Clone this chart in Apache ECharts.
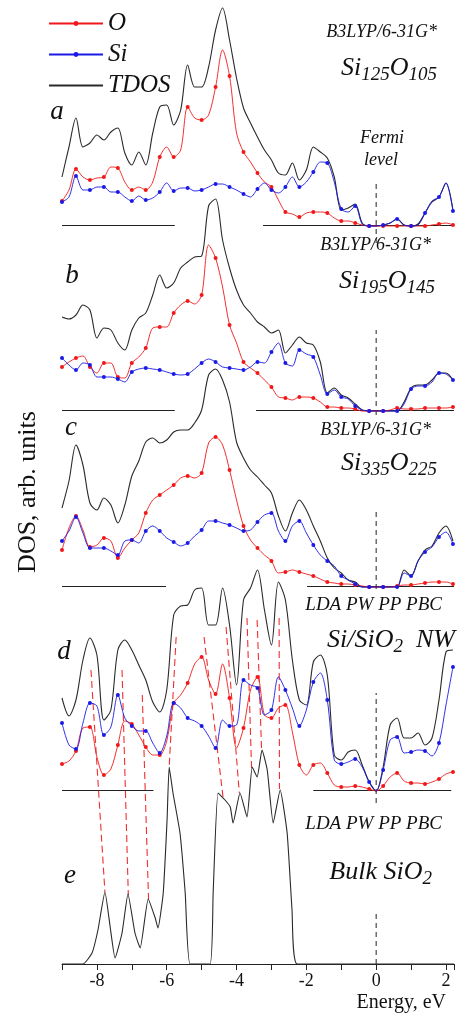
<!DOCTYPE html>
<html>
<head>
<meta charset="utf-8">
<script src="https://cdn.jsdelivr.net/npm/echarts@6/dist/echarts.min.js"></script>
<style>
  html, body { margin: 0; padding: 0; background: #fff; }
  #chart { width: 464px; height: 1015px; }
</style>
</head>
<body>
<div id="chart"></div>
<script>
'use strict';

// energy grid, eV (panels a-d)
var energy = [-9.0, -8.8, -8.6, -8.4, -8.2, -8.0, -7.8, -7.6, -7.4, -7.2,
  -7.0, -6.8, -6.6, -6.4, -6.2, -6.0, -5.8, -5.6, -5.4, -5.2,
  -5.0, -4.8, -4.6, -4.4, -4.2, -4.0, -3.8, -3.6, -3.4, -3.2,
  -3.0, -2.8, -2.6, -2.4, -2.2, -2.0, -1.8, -1.6, -1.4, -1.2,
  -1.0, -0.8, -0.6, -0.4, -0.2, 0.0, 0.2, 0.4, 0.6, 0.8,
  1.0, 1.2, 1.4, 1.6, 1.8, 2.0, 2.2];

// a: Si125O105
var aTDOS = [49, 79, 108, 79, 83, 91, 86, 94, 98, 73, 61, 74, 61, 93, 119, 121, 101, 116, 161, 139,
  139, 159, 196, 218, 186, 148, 118, 103, 89, 76, 66, 53, 51, 63, 46, 56, 79, 74, 68, 49,
  16, 18, 22, 3, 0, 0, 1, 3, 7, 1, 0, 2, 13, 24, 29, 43, 16];
var aO = [25, 36, 57, 49, 46, 48, 49, 59, 58, 44, 36, 39, 36, 44, 69, 79, 69, 76, 119, 108,
  106, 111, 139, 176, 150, 93, 74, 64, 53, 44, 39, 26, 14, 12, 9, 13, 14, 14, 13, 8,
  5, 5, 3, 1, 0, 0, 0, 0, 0, 0, 0, 0, 0, 1, 2, 3, 1];
var aSi = [24, 29, 50, 36, 36, 39, 39, 34, 34, 29, 25, 30, 26, 28, 34, 43, 35, 38, 38, 35,
  36, 39, 42, 42, 39, 36, 32, 29, 37, 43, 36, 33, 39, 49, 39, 44, 54, 64, 63, 44,
  17, 14, 20, 2, 0, 0, 1, 3, 7, 1, 0, 1, 13, 25, 29, 43, 15];

// b: Si195O145
var bTDOS = [94, 92, 96, 106, 101, 73, 83, 81, 68, 61, 81, 93, 98, 116, 136, 123, 128, 143, 149, 154,
  155, 205, 212, 171, 143, 121, 106, 98, 89, 84, 78, 81, 58, 66, 74, 68, 66, 49, 18, 23,
  16, 13, 7, 1, 0, 0, 0, 0, 0, 9, 23, 26, 26, 31, 38, 38, 31];
var bO = [44, 49, 53, 55, 44, 38, 48, 48, 34, 33, 48, 54, 63, 83, 84, 84, 98, 106, 110, 107,
  116, 166, 153, 124, 86, 68, 49, 43, 38, 31, 24, 14, 13, 11, 14, 14, 13, 9, 4, 4,
  3, 3, 2, 0, 0, 0, 0, 1, 3, 2, 2, 2, 3, 3, 3, 3, 4];
var bSi = [53, 46, 41, 48, 46, 34, 34, 34, 32, 29, 39, 42, 43, 42, 41, 39, 37, 36, 37, 42,
  48, 52, 49, 44, 43, 42, 41, 44, 49, 48, 59, 68, 48, 45, 61, 57, 54, 36, 17, 21,
  14, 12, 5, 1, 0, 0, 0, 0, 0, 7, 22, 25, 25, 29, 38, 37, 31];

// c: Si335O225
var cTDOS = [79, 106, 142, 122, 84, 77, 89, 82, 64, 82, 111, 126, 145, 149, 144, 147, 155, 157, 157, 164,
  177, 212, 218, 207, 185, 145, 129, 117, 110, 102, 94, 71, 56, 74, 87, 77, 61, 46, 29, 19,
  14, 7, 5, 0, 0, 0, 0, 0, 0, 17, 11, 26, 37, 41, 54, 61, 46];
var cO = [37, 59, 71, 57, 40, 42, 49, 46, 29, 39, 47, 54, 74, 87, 92, 97, 102, 109, 111, 109,
  114, 144, 150, 142, 117, 87, 61, 47, 39, 32, 26, 14, 15, 17, 15, 13, 11, 8, 5, 4,
  3, 3, 2, 1, 0, 0, 0, 0, 1, 2, 2, 3, 4, 5, 5, 5, 3];
var cSi = [46, 56, 70, 54, 39, 39, 39, 36, 32, 46, 47, 44, 56, 61, 56, 49, 45, 41, 44, 51,
  57, 66, 66, 64, 62, 59, 56, 57, 65, 72, 74, 56, 46, 61, 66, 54, 42, 32, 26, 21,
  11, 7, 3, 0, 0, 0, 0, 0, 0, 14, 11, 26, 35, 40, 50, 55, 43];

// d: Si/SiO2 nanowire
var dTDOS = [93, 75, 91, 131, 153, 136, 71, 81, 141, 151, 141, 126, 111, 89, 79, 101, 176, 185, 186, 201,
  203, 166, 166, 203, 166, 106, 191, 203, 221, 181, 146, 209, 191, 131, 91, 86, 129, 136, 116, 36,
  31, 39, 41, 26, 9, 0, 24, 66, 73, 53, 53, 58, 46, 53, 91, 139, 141];
var dO = [27, 30, 40, 63, 64, 34, 16, 22, 46, 70, 67, 56, 44, 36, 36, 50, 88, 96, 108, 127,
  134, 111, 97, 127, 93, 43, 63, 101, 114, 76, 73, 83, 86, 59, 26, 16, 26, 28, 18, 6,
  4, 4, 5, 4, 2, 0, 5, 14, 18, 10, 8, 8, 7, 9, 12, 17, 19];
var dSi = [68, 46, 42, 68, 88, 85, 56, 64, 96, 73, 65, 60, 60, 48, 38, 55, 88, 83, 73, 70,
  65, 55, 43, 71, 65, 66, 111, 106, 103, 76, 81, 114, 101, 83, 65, 81, 109, 118, 91, 31,
  27, 29, 32, 24, 9, 0, 21, 51, 54, 38, 39, 41, 40, 35, 48, 86, 124];

// e: bulk SiO2
var eEnergy = [-9.0, -8.4, -8.14, -7.97, -7.77, -7.62, -7.48, -7.28, -7.11, -6.91,
  -6.76, -6.53, -6.33, -6.25, -6.10, -5.99, -5.93, -5.82, -5.62, -5.47,
  -5.33, -4.76, -4.67, -4.53, -4.33, -4.18, -4.10, -3.90, -3.70, -3.55,
  -3.41, -3.27, -3.12, -2.95, -2.75, -2.55, -2.41, -2.26, 2.23];
var eTDOS = [0, 0, 11, 34, 72, 37, 6, 31, 70, 31, 16, 65, 46, 36, 71, 144, 197, 171, 131, 71,
  0, 0, 71, 171, 164, 157, 141, 171, 147, 197, 187, 214, 194, 141, 174, 131, 54, 0, 0];

// dashed guides d -> e
var linkTopE = [-8.17, -7.28, -6.70, -5.73, -4.93, -4.30, -3.70, -3.41, -2.78];
var linkTopDOS = [121, 121, 96, 154, 154, 164, 173, 171, 173];   // above d baseline
var linkBotE = [-7.77, -7.10, -6.52, -5.93, -4.38, -3.92, -3.57, -3.28, -2.77];
var linkBotDOS = [72, 69, 64, 197, 165, 171, 196, 212, 175];      // above e baseline

// zero-line pieces per panel (eV)
var zeroA = [[-9, -5.77], [-3.24, 2.23]];
var zeroB = [[-9, -5.77], [-3.44, 2.23]];
var zeroC = [[-9, -6.02], [-1.98, 2.23]];
var zeroD = [[-9, -6.38], [-1.80, 2.15]];

// Fermi level dash, extent relative to each baseline
var fermiLow = [-17, -4, -2, -12, 0];
var fermiHigh = [44, 81, 78, 98, 51];

var xTicks = [-8, -6, -4, -2, 0, 2];

// layout: vertical offset of each panel (1 unit = 1 px)
var offs = [738, 553, 377, 173, 0];
var RED = '#f01818', BLUE = '#1a1ae6', BLACK = '#2a2a2a';
var SERIF = '"Liberation Serif", "DejaVu Serif", serif';

function shifted(xs, ys, off) {
  return xs.map(function (x, i) { return [x, ys[i] + off]; });
}
function every2(v, p) { return p.dataIndex % 2 === 0 ? 4 : 0; }

var series = [];
function curve(name, ys, off, color, dotted) {
  series.push({
    name: name, type: 'line', data: shifted(energy, ys, off),
    smooth: 0.3, clip: false,
    symbol: dotted ? 'circle' : 'none', showAllSymbol: true,
    symbolSize: dotted ? every2 : 0,
    itemStyle: { color: color },
    lineStyle: { color: color, width: dotted ? 0.9 : 1.1 },
    emphasis: { disabled: true }, z: dotted ? 3 : 2
  });
}
function plain(data, color, type, width) {
  series.push({
    type: 'line', data: data, symbol: 'none', clip: false, silent: true,
    lineStyle: { color: color, width: width || 1, type: type || 'solid' },
    emphasis: { disabled: true }, z: 1
  });
}

var panels = [
  [aTDOS, aO, aSi, zeroA], [bTDOS, bO, bSi, zeroB],
  [cTDOS, cO, cSi, zeroC], [dTDOS, dO, dSi, zeroD]
];
panels.forEach(function (p, k) {
  var off = offs[k];
  p[3].forEach(function (s) { plain([[s[0], off + 0.5], [s[1], off + 0.5]], '#222', 'solid', 1); });
  curve('TDOS', p[0], off, BLACK, false);
  curve('O', p[1], off, RED, true);
  curve('Si', p[2], off, BLUE, true);
});

// bulk SiO2
series.push({
  name: 'TDOS', type: 'line', data: shifted(eEnergy, eTDOS, 0), smooth: 0.15,
  symbol: 'none', clip: false, lineStyle: { color: BLACK, width: 1.1 },
  emphasis: { disabled: true }, z: 2
});

// Fermi level
offs.forEach(function (off, k) {
  plain([[0, off + fermiLow[k]], [0, off + fermiHigh[k]]], '#222', [5, 4], 1);
});

// correspondence guides
linkTopE.forEach(function (e, i) {
  plain([[e, offs[3] + linkTopDOS[i]], [linkBotE[i], offs[4] + linkBotDOS[i]]], '#f03030', [7, 4], 1.1);
});

function txt(x, y, text, size, opts) {
  opts = opts || {};
  return {
    type: 'text', x: x, y: y, z: 10, silent: true, rotation: opts.rot || 0,
    style: {
      text: text, fill: '#111', font: (opts.upright ? '' : 'italic ') + size + 'px ' + SERIF,
      align: opts.align || 'left', verticalAlign: opts.valign || 'middle',
      rich: opts.rich
    }
  };
}
// subscript: extra top padding pushes the small digits down
var chem = {
  m: { fontSize: 26, fontStyle: 'italic', fontFamily: SERIF, fill: '#111' },
  s: { fontSize: 19, fontStyle: 'italic', fontFamily: SERIF, fill: '#111', padding: [13, 0, 0, 0] }
};

var graphics = [
  txt(437, 32, 'B3LYP/6-31G*', 18, { align: 'right' }),
  txt(437, 68, '{m|Si}{s|125}{m|O}{s|105}', 26, { align: 'right', rich: chem }),
  txt(431, 245, 'B3LYP/6-31G*', 18, { align: 'right' }),
  txt(435, 281, '{m|Si}{s|195}{m|O}{s|145}', 26, { align: 'right', rich: chem }),
  txt(431, 430, 'B3LYP/6-31G*', 18, { align: 'right' }),
  txt(437, 463, '{m|Si}{s|335}{m|O}{s|225}', 26, { align: 'right', rich: chem }),
  txt(442, 605, 'LDA PW PP PBC', 19, { align: 'right' }),
  txt(455, 640, '{m|Si/SiO}{s|2}{m|  NW}', 26, { align: 'right', rich: chem }),
  txt(442, 824, 'LDA PW PP PBC', 19, { align: 'right' }),
  txt(432, 872, '{m|Bulk SiO}{s|2}', 26, { align: 'right', rich: chem }),
  txt(382, 138, 'Fermi', 18, { align: 'center' }),
  txt(381, 160, 'level', 18, { align: 'center' }),
  txt(57, 112, 'a', 27, { align: 'center' }),
  txt(72, 276, 'b', 27, { align: 'center' }),
  txt(71, 428, 'c', 27, { align: 'center' }),
  txt(64, 652, 'd', 27, { align: 'center' }),
  txt(70, 876, 'e', 27, { align: 'center' }),
  txt(28, 492, 'DOS, arb. units', 26, { align: 'center', upright: true, rot: Math.PI / 2 }),
  txt(446, 1003, 'Energy, eV', 20, { align: 'right', upright: true })
];

var chart = echarts.init(document.getElementById('chart'), null, { renderer: 'canvas' });
chart.setOption({
  animation: false,
  backgroundColor: '#fff',
  grid: { left: 62, right: 10, top: 0, bottom: 51 },
  legend: {
    orient: 'vertical', left: 43, top: 6, itemWidth: 54, itemHeight: 6, itemGap: 6,
    selectedMode: false,
    data: ['O', 'Si', { name: 'TDOS', itemStyle: { opacity: 0 } }],
    textStyle: { fontFamily: SERIF, fontStyle: 'italic', fontSize: 25, color: '#111' }
  },
  xAxis: {
    type: 'value', min: -9, max: 2.23, interval: 1,
    splitLine: { show: false },
    axisLine: { onZero: false, lineStyle: { color: '#222', width: 1 } },
    axisTick: { length: 6, lineStyle: { color: '#222' } },
    axisLabel: {
      margin: 8, color: '#111', fontFamily: SERIF, fontSize: 18,
      formatter: function (v) { return xTicks.indexOf(v) >= 0 ? String(v) : ''; }
    }
  },
  yAxis: { type: 'value', min: 0, max: 964, show: false },
  graphic: graphics,
  series: series
});
</script>
</body>
</html>
